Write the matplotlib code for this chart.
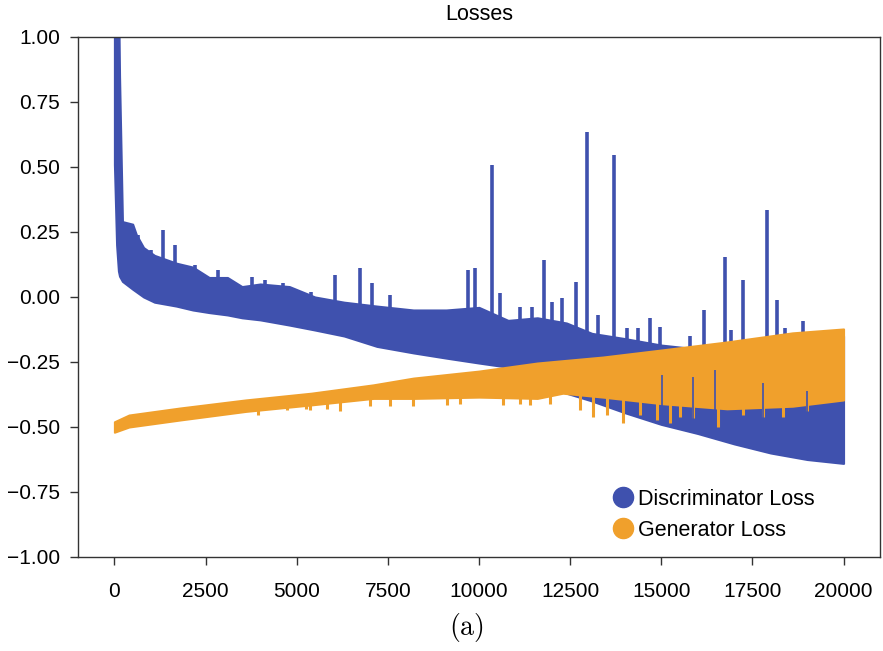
import matplotlib
matplotlib.use("Agg")
import matplotlib.pyplot as plt
from matplotlib.lines import Line2D
import numpy as np

plt.rcParams['font.family'] = ['Liberation Sans', 'DejaVu Sans']
plt.rcParams['mathtext.fontset'] = 'cm'

# discriminator loss: dense band (upper / lower edge) over training steps
disc_x = [0, 60, 110, 140, 220, 500, 600, 800, 1100, 1700, 2150, 2600, 3100, 3500,
          4000, 4800, 5500, 6300, 7200, 8200, 9100, 10000, 10800, 11600, 12400,
          13100, 14000, 15000, 16000, 17000, 18000, 19000, 20000]
disc_hi = [1.2, 1.2, 1.2, 0.85, 0.29, 0.28, 0.24, 0.19, 0.16, 0.13, 0.115, 0.075,
           0.075, 0.04, 0.05, 0.04, 0.0, -0.02, -0.035, -0.05, -0.05, -0.04, -0.09,
           -0.08, -0.10, -0.14, -0.16, -0.185, -0.20, -0.19, -0.18, -0.16, -0.15]
disc_lo = [0.51, 0.20, 0.10, 0.08, 0.06, 0.03, 0.02, 0.0, -0.02, -0.035, -0.05,
           -0.06, -0.069, -0.08, -0.088, -0.108, -0.127, -0.15, -0.19, -0.215,
           -0.235, -0.254, -0.27, -0.30, -0.37, -0.40, -0.445, -0.49, -0.525,
           -0.565, -0.60, -0.625, -0.64]

# isolated discriminator spikes (step, peak value)
disc_spike_x = [660, 1000, 1346, 1648, 1930, 2200, 2830, 3770, 4120, 4615, 5400,
                6043, 6730, 7060, 7554, 9697, 9889, 10356, 10576, 11125, 11455,
                11785, 12004, 12279, 12664, 12966, 13268, 13708, 14065, 14367,
                14697, 14971, 15795, 16180, 16757, 16922, 17251, 17910, 18185,
                18405, 18899]
disc_spike_y = [0.24, 0.18, 0.258, 0.20, 0.123, 0.123, 0.104, 0.077, 0.065, 0.054,
                0.02, 0.085, 0.112, 0.054, 0.008, 0.104, 0.112, 0.508, 0.015,
                -0.04, -0.04, 0.142, -0.02, -0.004, 0.058, 0.635, -0.07, 0.546,
                -0.12, -0.12, -0.08, -0.115, -0.15, -0.05, 0.154, -0.127, 0.064,
                0.335, -0.012, -0.12, -0.092]

# places where the discriminator line shows through the generator band
disc_gap_x = [15026, 15878, 16482, 17800, 19010]
disc_gap_y = [-0.30, -0.307, -0.28, -0.33, -0.36]

# generator loss band
gen_x = [0, 400, 1800, 3600, 5400, 7100, 8200, 10000, 11600, 12300, 13400, 15000,
         16800, 18600, 20000]
gen_hi = [-0.48, -0.454, -0.427, -0.396, -0.37, -0.338, -0.312, -0.285, -0.254,
          -0.245, -0.231, -0.204, -0.173, -0.138, -0.123]
gen_lo = [-0.52, -0.50, -0.473, -0.44, -0.415, -0.39, -0.39, -0.385, -0.39, -0.37,
          -0.385, -0.41, -0.43, -0.42, -0.396]

# downward generator spikes (step, lowest value)
gen_spike_x = [3928, 4725, 5260, 5357, 5830, 6180, 7005, 7555, 8190, 9120, 9480,
               10658, 11125, 11400, 11950, 12774, 13130, 13515, 13955, 14420,
               14890, 15245, 15520, 15880, 16565, 17230, 17800, 18350, 19010]
gen_spike_y = [-0.454, -0.435, -0.43, -0.435, -0.43, -0.44, -0.42, -0.42, -0.42,
               -0.415, -0.41, -0.415, -0.41, -0.415, -0.41, -0.435, -0.46, -0.454,
               -0.485, -0.454, -0.473, -0.485, -0.46, -0.465, -0.50, -0.454,
               -0.46, -0.46, -0.44]

blue = '#3F51AE'
orange = '#F0A02C'

fig = plt.figure(figsize=(8.83, 6.51), dpi=100)
ax = fig.add_axes([0.0883, 0.1444, 0.9083, 0.7988])

ax.fill_between(disc_x, disc_lo, disc_hi, color=blue, lw=1.5, edgecolor=blue, zorder=2)
ax.vlines(disc_spike_x, np.interp(disc_spike_x, disc_x, disc_lo), disc_spike_y,
          color=blue, lw=2.6, zorder=2)

ax.fill_between(gen_x, gen_lo, gen_hi, color=orange, lw=1.5, edgecolor=orange, zorder=3)
ax.vlines(gen_spike_x, gen_spike_y, np.interp(gen_spike_x, gen_x, gen_hi),
          color=orange, lw=2.2, zorder=3)
ax.vlines(disc_gap_x, np.interp(disc_gap_x, disc_x, disc_lo), disc_gap_y,
          color=blue, lw=1.2, zorder=4)

ax.set_xlim(-1000, 21000)
ax.set_ylim(-1, 1)
ax.set_yticks(np.arange(-1, 1.01, 0.25))
ax.set_yticklabels(['{:.2f}'.format(v).replace('-', '\u2212') for v in np.arange(-1, 1.01, 0.25)])
ax.set_xticks(np.arange(0, 20001, 2500))
ax.tick_params(axis='both', labelsize=15, length=6, width=1, color='#333333')
ax.tick_params(axis='x', pad=12)
ax.tick_params(axis='y', pad=7)
for s in ax.spines.values():
    s.set_color('#333333')
    s.set_linewidth(1.0)

ax.set_title('Losses', fontsize=15.5, pad=12)

handles = [Line2D([], [], ls='none', marker='o', ms=14.5, color=blue),
           Line2D([], [], ls='none', marker='o', ms=14.5, color=orange)]
fig.legend(handles, ['Discriminator Loss', 'Generator Loss'], loc='upper left',
           bbox_to_anchor=(0.693, 0.249), frameon=False, fontsize=15.5,
           borderpad=0, borderaxespad=0, handlelength=1.0, handletextpad=0.2,
           labelspacing=0.45)

fig.text(0.528, 0.036, r'$\mathrm{(a)}$', fontsize=20, ha='center', va='center')

fig.savefig('out.png', dpi=100)
